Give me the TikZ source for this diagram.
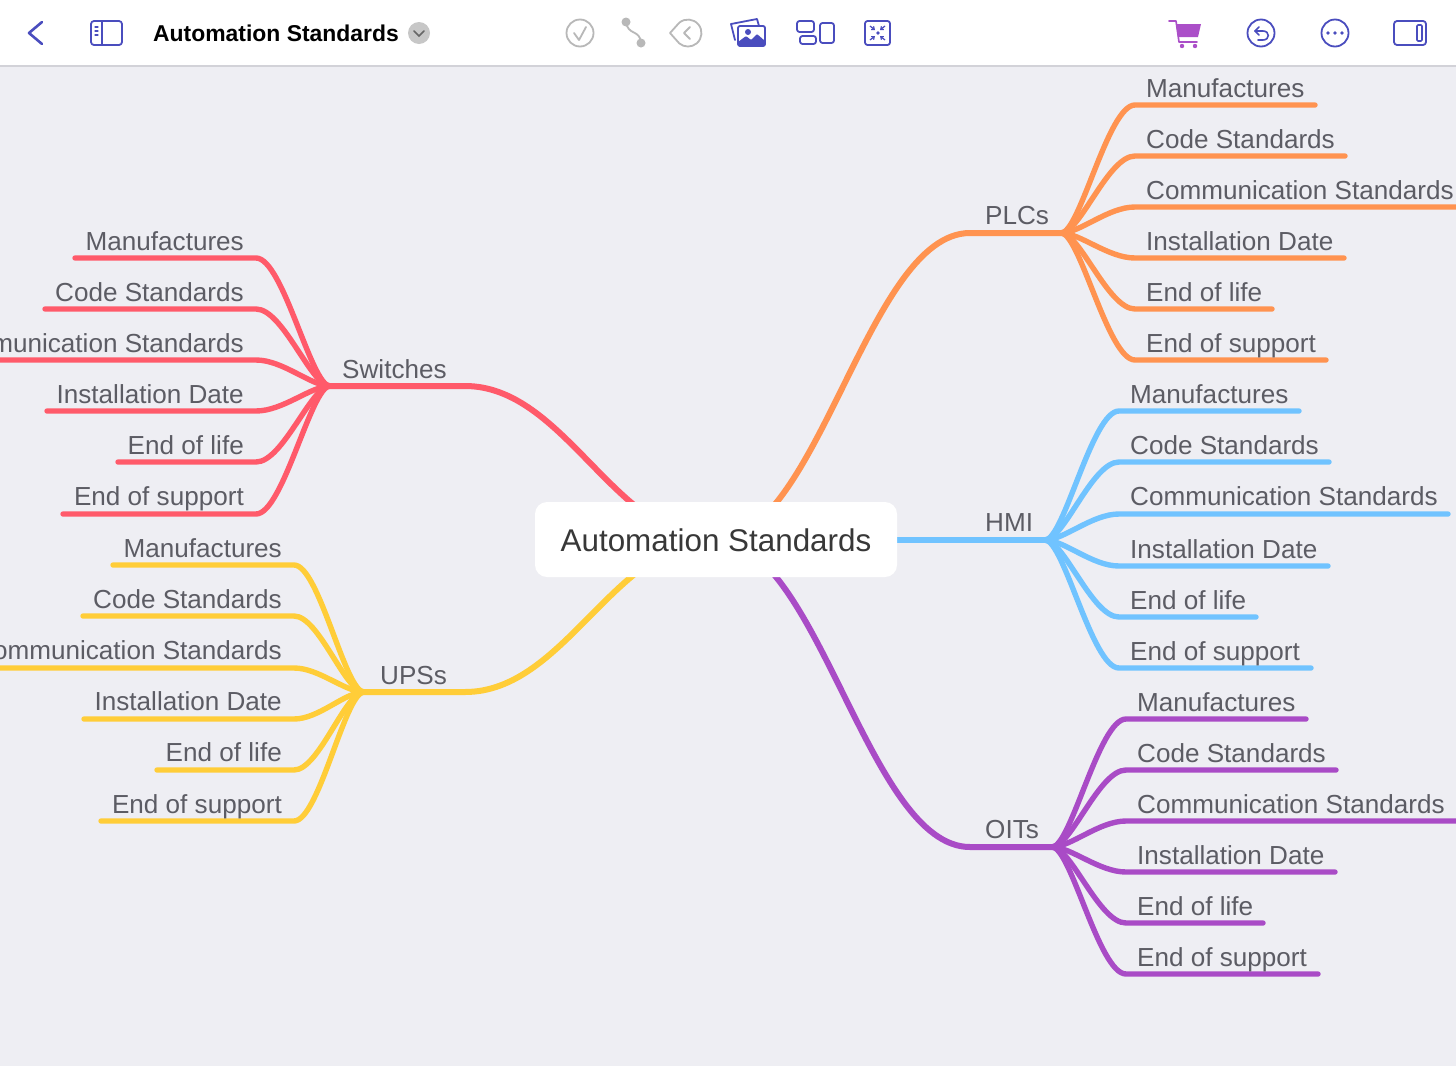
\documentclass[tikz,border=0pt]{standalone}
\usepackage{fontspec}
\setmainfont{Liberation Sans}
\usetikzlibrary{arrows.meta}
\definecolor{bgc}{HTML}{EEEEF3}
\definecolor{barline}{HTML}{D2D2D8}
\definecolor{ind}{HTML}{4A4DBE}
\definecolor{gr}{HTML}{B8B8B8}
\definecolor{cart}{HTML}{AB4FC8}
\definecolor{orangeb}{HTML}{FF9350}
\definecolor{blueb}{HTML}{70C3FF}
\definecolor{purpleb}{HTML}{A94BC6}
\definecolor{redb}{HTML}{FF5A6A}
\definecolor{yellowb}{HTML}{FFCD38}
\definecolor{txt}{HTML}{5C5C64}
\tikzset{
  lab/.style={inner sep=0pt,text=txt,font=\fontsize{26.1}{30}\selectfont},
  branch/.style={line width=6pt,line cap=round,line join=round},
  twig/.style={line width=5.4pt,line cap=round,line join=round},
  ic/.style={draw=ind,line width=1.8pt,line join=round,line cap=round},
  icg/.style={draw=gr,line width=1.8pt,line join=round,line cap=round},
}
\begin{document}
\begin{tikzpicture}[x=1pt,y=-1pt]
\useasboundingbox (0,0) rectangle (1456,1066);
\clip (0,0) rectangle (1456,1066);
\fill[bgc] (0,0) rectangle (1456,1066);

\coordinate (cen) at (716,540);
\coordinate (hubP) at (1061,233);
\coordinate (hubH) at (1045,540);
\coordinate (hubO) at (1052,847);
\coordinate (hubS) at (330,386);
\coordinate (hubU) at (364,692);
\coordinate (kP) at (970,233);
\coordinate (kO) at (970,847);
\coordinate (kS) at (465,386);
\coordinate (kU) at (465,692);

% trunks
\draw[branch,orangeb] (cen) .. controls (818,540) and (868,233) .. (kP) -- (hubP);
\draw[branch,purpleb] (cen) .. controls (818,540) and (868,847) .. (kO) -- (hubO);
\draw[branch,redb] (cen) .. controls (615,540) and (565,386) .. (kS) -- (hubS);
\draw[branch,yellowb] (cen) .. controls (615,540) and (565,692) .. (kU) -- (hubU);
\draw[branch,blueb] (cen) -- (hubH);

% twigs
\foreach \i/\y/\e in {1/105/1315,2/156/1345,3/207/1470,4/258/1344,5/309/1272,6/360/1326}{
  \coordinate (ps\i) at (1135,\y); \coordinate (pe\i) at (\e,\y);
  \draw[twig,orangeb] (hubP) .. controls (1080,233) and (1108,\y) .. (ps\i) -- (pe\i);
}
\foreach \i/\y/\e in {1/411/1299,2/462/1329,3/514/1448,4/566/1328,5/617/1256,6/668/1311}{
  \coordinate (hs\i) at (1119,\y); \coordinate (he\i) at (\e,\y);
  \draw[twig,blueb] (hubH) .. controls (1064,540) and (1092,\y) .. (hs\i) -- (he\i);
}
\foreach \i/\y/\e in {1/719/1306,2/770/1336,3/821/1470,4/872/1335,5/923/1263,6/974/1318}{
  \coordinate (os\i) at (1126,\y); \coordinate (oe\i) at (\e,\y);
  \draw[twig,purpleb] (hubO) .. controls (1071,847) and (1099,\y) .. (os\i) -- (oe\i);
}
\foreach \i/\y/\e in {1/258/75,2/309/45,3/360/-20,4/411/47,5/462/118,6/514/63}{
  \coordinate (ss\i) at (256,\y); \coordinate (se\i) at (\e,\y);
  \draw[twig,redb] (hubS) .. controls (311,386) and (283,\y) .. (ss\i) -- (se\i);
}
\foreach \i/\y/\e in {1/565/113,2/616/83,3/668/-20,4/719/84,5/770/157,6/821/101}{
  \coordinate (us\i) at (294,\y); \coordinate (ue\i) at (\e,\y);
  \draw[twig,yellowb] (hubU) .. controls (345,692) and (319,\y) .. (us\i) -- (ue\i);
}

% labels on the right
\foreach \i/\t/\b in {1/Manufactures/97,2/Code Standards/148,3/Communication Standards/199,4/Installation Date/250,5/End of life/301,6/End of support/352}{
  \node[lab,anchor=base west] (pt\i) at (1146,\b) {\t};
}
\foreach \i/\t/\b in {1/Manufactures/403,2/Code Standards/454,3/Communication Standards/505,4/Installation Date/558,5/End of life/609,6/End of support/660}{
  \node[lab,anchor=base west] (ht\i) at (1130,\b) {\t};
}
\foreach \i/\t/\b in {1/Manufactures/711,2/Code Standards/762,3/Communication Standards/813,4/Installation Date/864,5/End of life/915,6/End of support/966}{
  \node[lab,anchor=base west] (ot\i) at (1137,\b) {\t};
}
% labels on the left
\foreach \i/\t/\b in {1/Manufactures/250,2/Code Standards/301,3/Communication Standards/352,4/Installation Date/403,5/End of life/454,6/End of support/505}{
  \node[lab,anchor=base east] (st\i) at (244,\b) {\t};
}
\foreach \i/\t/\b in {1/Manufactures/557,2/Code Standards/608,3/Communication Standards/659,4/Installation Date/710,5/End of life/761,6/End of support/813}{
  \node[lab,anchor=base east] (ut\i) at (282,\b) {\t};
}
% branch labels
\node[lab,anchor=base west] (plcs) at (985,224) {PLCs};
\node[lab,anchor=base west] (hmi) at (985,531) {HMI};
\node[lab,anchor=base west] (oits) at (985,838) {OITs};
\node[lab,anchor=base west] (switches) at (342,378) {Switches};
\node[lab,anchor=base west] (upss) at (380,684) {UPSs};

% root
\fill[white,rounded corners=12pt] (535,502) rectangle (897,577);
\node[inner sep=0pt,anchor=base,text=black!78,font=\fontsize{31.4}{36}\selectfont] (root) at (716,551) {Automation Standards};

% toolbar
\fill[white] (0,0) rectangle (1456,65);
\fill[barline] (0,65) rectangle (1456,67);
\node[inner sep=0pt,anchor=base west,text=black,font=\bfseries\fontsize{22.9}{28}\selectfont] (title) at (153,41.5) {Automation Standards};

% back, sidebar
\draw[ic,line width=2.6pt] (42,22) -- (29,33) -- (42,44);
\draw[ic,rounded corners=3pt] (91,21) rectangle (122,45);
\draw[ic] (102,21) -- (102,45);
\draw[ic,line width=1.3pt] (95,27) -- (98,27) (95,31) -- (98,31) (95,35) -- (98,35);
% drop-down
\fill[black!22] (419,33) circle (11);
\draw[black!60,line width=1.5pt,line cap=round] (414,31) -- (419,36) -- (424,31);
% check
\draw[icg] (580,33) circle (13.5);
\draw[icg] (574,33) -- (579,40) -- (586,27);
% relation
\draw[icg] (626,22) .. controls (628,36) and (640,29) .. (641,43);
\fill[gr] (626,22) circle (4.5) (641,43) circle (4.5);
% tag
\draw[icg] (670,33) -- (679.3,22.7) arc[start angle=-130,end angle=130,radius=13.5] -- cycle;
\draw[icg] (690,27) -- (684,33) -- (690,39);
% pictures
\draw[ic] (735,40) -- (731,24) -- (757,19) -- (759,26);
\draw[ic,fill=white,rounded corners=2pt] (738,26) rectangle (765,46);
\fill[ind] (748,32) circle (3);
\fill[ind,rounded corners=1pt] (738,46) -- (738,42) -- (746,36) -- (751,40) -- (757,34) -- (765,41) -- (765,46) -- cycle;
% layout
\draw[ic,rounded corners=2.5pt] (797,21) rectangle (814,32);
\draw[ic,rounded corners=2.5pt] (800,36) rectangle (816,44);
\draw[ic,rounded corners=2.5pt] (820,23) rectangle (834,43);
% focus
\draw[ic,rounded corners=2.5pt] (865,21) rectangle (890,45);
\fill[ind] (878,33) circle (1.8);
\draw[ind,line width=1.2pt,-{Straight Barb[length=2.5pt,width=4pt]}] (870,26) -- (875,30);
\draw[ind,line width=1.2pt,-{Straight Barb[length=2.5pt,width=4pt]}] (885,26) -- (880,30);
\draw[ind,line width=1.2pt,-{Straight Barb[length=2.5pt,width=4pt]}] (870,40) -- (875,36);
\draw[ind,line width=1.2pt,-{Straight Barb[length=2.5pt,width=4pt]}] (885,40) -- (880,36);
% cart
\fill[cart] (1176,24) -- (1201,24) -- (1198,37) -- (1178,37) -- cycle;
\draw[cart,line width=1.6pt,line join=round,line cap=round] (1169,21) -- (1176,21) -- (1179,42) -- (1197,42);
\fill[cart] (1182,46) circle (2.2) (1195,46) circle (2.2);
% undo
\draw[ic] (1261,33) circle (13.5);
\draw[ic,line width=1.6pt] (1259,27) -- (1255,31) -- (1259,35);
\draw[ic,line width=1.6pt] (1255,31) -- (1263,31) .. controls (1270,31) and (1270,40) .. (1263,40) -- (1258,40);
% more
\draw[ic] (1335,33) circle (13.5);
\fill[ind] (1328,33) circle (1.8) (1335,33) circle (1.8) (1342,33) circle (1.8);
% right panel
\draw[ic,rounded corners=3pt] (1394,21) rectangle (1426,45);
\draw[ic,line width=1.6pt,rounded corners=1pt] (1417,25) rectangle (1422,41);
\end{tikzpicture}
\end{document}
